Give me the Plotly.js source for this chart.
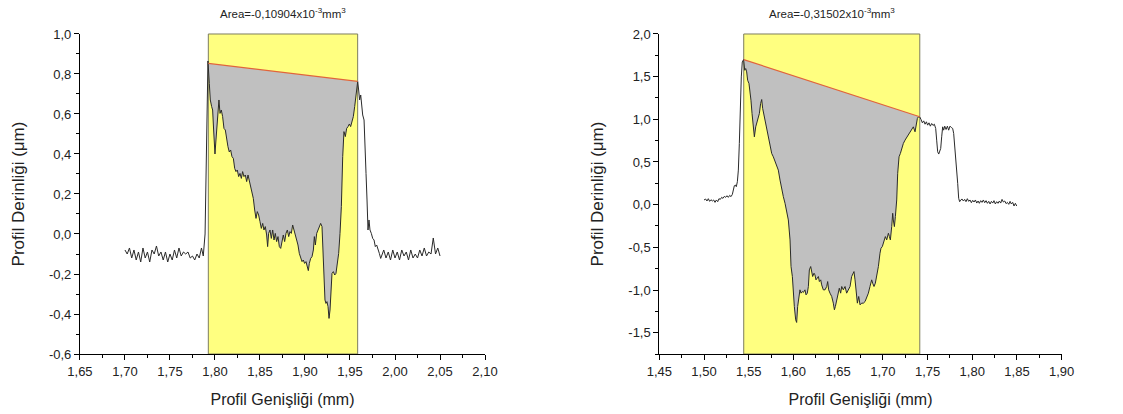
<!DOCTYPE html>
<html>
<head>
<meta charset="utf-8">
<script src="https://cdn.plot.ly/plotly-3.0.1.min.js"></script>
<style>
  html, body { margin: 0; padding: 0; background: #fff; }
  #chart { width: 1123px; height: 414px; }
</style>
</head>
<body>
<div id="chart"></div>
<script>
// ---- Profile A (left panel) ----
const profA_x = [
  1.7000,1.7025,1.7050,1.7075,1.7100,1.7125,1.7150,1.7175,1.7200,1.7225,1.7250,1.7275,1.7300,1.7325,1.7350,1.7375,1.7400,1.7425,1.7450,1.7475,
  1.7500,1.7525,1.7550,1.7575,1.7600,1.7625,1.7650,1.7675,1.7700,1.7725,1.7750,1.7775,1.7800,1.7825,1.7850,1.7870,1.7890,1.7907,1.7922,
  1.7937,1.7948,1.7963,1.7974,1.7985,1.8000,1.8011,1.8026,1.8044,1.8056,1.8070,1.8085,1.8100,1.8115,1.8130,1.8144,1.8159,1.8174,1.8189,
  1.8204,1.8219,1.8233,1.8248,1.8263,1.8278,1.8293,1.8307,1.8322,1.8337,1.8352,1.8367,1.8381,1.8396,1.8411,1.8426,1.8441,1.8456,1.8470,
  1.8485,1.8500,1.8515,1.8530,1.8544,1.8559,1.8574,1.8585,1.8596,1.8611,1.8626,1.8641,1.8656,1.8670,1.8685,1.8700,1.8715,1.8730,1.8744,
  1.8759,1.8774,1.8789,1.8804,1.8819,1.8833,1.8848,1.8863,1.8878,1.8893,1.8907,1.8922,1.8937,1.8952,1.8967,1.8981,1.8996,1.9011,1.9026,
  1.9037,1.9048,1.9063,1.9078,1.9093,1.9104,1.9115,1.9130,1.9144,1.9159,1.9174,1.9189,1.9200,1.9211,1.9222,1.9233,1.9244,1.9256,1.9267,
  1.9278,1.9289,1.9300,1.9315,1.9330,1.9344,1.9359,1.9374,1.9389,1.9404,1.9419,1.9433,1.9448,1.9463,1.9478,1.9493,1.9507,1.9522,1.9537,
  1.9552,1.9567,1.9578,1.9585,1.9596,1.9607,1.9619,1.9630,1.9641,1.9656,1.9667,1.9678,1.9689,1.9700,1.9711,1.9722,1.9737,1.9752,1.9767,
  1.9781,1.9796,1.9811,1.9826,1.9841,1.9850,1.9875,1.9900,1.9925,1.9950,1.9975,2.0000,2.0025,2.0050,2.0075,2.0100,2.0125,2.0150,2.0175,
  2.0200,2.0225,2.0250,2.0275,2.0300,2.0325,2.0350,2.0375,2.0400,2.0425,2.0450,2.0475,2.0500
];
const profA_y = [
  -0.08,-0.10,-0.07,-0.12,-0.08,-0.13,-0.09,-0.14,-0.07,-0.12,-0.09,-0.14,-0.08,-0.10,-0.06,-0.11,-0.09,-0.13,-0.09,-0.14,
  -0.10,-0.13,-0.08,-0.12,-0.07,-0.11,-0.09,-0.10,-0.09,-0.12,-0.11,-0.13,-0.10,-0.12,-0.07,-0.11,0.00,0.42,0.865,
  0.753,0.67,0.637,0.62,0.52,0.40,0.47,0.587,0.67,0.603,0.62,0.587,0.528,0.52,0.47,0.437,0.41,0.42,0.387,
  0.378,0.328,0.312,0.32,0.287,0.303,0.278,0.312,0.287,0.295,0.262,0.295,0.27,0.237,0.212,0.178,0.12,0.078,0.112,
  0.095,0.062,0.028,0.053,0.02,0.037,-0.005,-0.063,0.003,0.02,-0.022,0.02,-0.03,0.003,-0.038,-0.013,-0.063,-0.072,-0.03,
  -0.005,-0.038,0.003,0.02,-0.013,0.012,0.003,0.045,0.02,-0.005,-0.022,-0.055,-0.097,-0.122,-0.138,-0.13,-0.147,-0.138,-0.163,
  -0.183,-0.147,-0.122,-0.113,-0.08,-0.013,-0.055,0.003,0.02,0.045,0.053,0.037,-0.063,-0.197,-0.33,-0.347,-0.338,-0.363,-0.422,
  -0.38,-0.263,-0.197,-0.188,-0.205,-0.197,-0.147,-0.097,0.003,0.137,0.387,0.512,0.487,0.528,0.537,0.55,0.537,0.562,0.587,
  0.637,0.687,0.737,0.762,0.72,0.67,0.695,0.637,0.595,0.57,0.47,0.303,0.17,0.02,0.07,0.02,0.003,-0.022,-0.03,
  -0.063,-0.055,-0.072,-0.097,-0.122,-0.11,-0.08,-0.12,-0.09,-0.13,-0.08,-0.12,-0.09,-0.13,-0.08,-0.11,-0.09,-0.13,-0.08,
  -0.12,-0.10,-0.12,-0.08,-0.11,-0.07,-0.11,-0.09,-0.10,-0.02,-0.10,-0.07,-0.11
];
const bandA_x = [1.7926, 1.9585];        // integration window
const baseA_x = [1.7926, 1.9585];        // reference line end points
const baseA_y = [0.853, 0.763];
const areaA_label = 'Area=-0,10904x10<sup>-3</sup>mm<sup>3</sup>';
const tickA_x = [1.65, 1.70, 1.75, 1.80, 1.85, 1.90, 1.95, 2.00, 2.05, 2.10];
const tickA_y = [-0.6, -0.4, -0.2, 0.0, 0.2, 0.4, 0.6, 0.8, 1.0];

// ---- Profile B (right panel) ----
const profB_x = [
  1.5000,1.5018,1.5033,1.5048,1.5063,1.5078,1.5093,1.5108,1.5123,1.5138,1.5153,1.5167,1.5182,1.5197,1.5212,1.5227,1.5242,1.5257,1.5272,1.5287,
  1.5302,1.5317,1.5328,1.5339,1.5350,1.5361,1.5373,1.5384,1.5395,1.5406,1.5417,1.5428,1.5443,1.5455,1.5466,1.5477,1.5488,1.5503,1.5514,
  1.5525,1.5537,1.5551,1.5563,1.5578,1.5589,1.5604,1.5619,1.5633,1.5645,1.5656,1.5671,1.5686,1.5701,1.5719,1.5738,1.5757,1.5775,1.5794,
  1.5812,1.5831,1.5850,1.5868,1.5887,1.5906,1.5924,1.5943,1.5962,1.5973,1.5988,1.5999,1.6010,1.6025,1.6036,1.6047,1.6062,1.6073,1.6085,
  1.6100,1.6111,1.6129,1.6141,1.6155,1.6167,1.6178,1.6193,1.6204,1.6215,1.6230,1.6241,1.6252,1.6267,1.6279,1.6290,1.6305,1.6316,1.6334,
  1.6353,1.6372,1.6383,1.6394,1.6409,1.6428,1.6446,1.6458,1.6469,1.6484,1.6502,1.6513,1.6528,1.6540,1.6558,1.6577,1.6595,1.6614,1.6633,
  1.6651,1.6663,1.6677,1.6689,1.6700,1.6715,1.6730,1.6745,1.6763,1.6782,1.6801,1.6819,1.6838,1.6856,1.6875,1.6886,1.6901,1.6916,1.6931,
  1.6950,1.6968,1.6979,1.6994,1.7013,1.7028,1.7043,1.7062,1.7073,1.7084,1.7099,1.7110,1.7117,1.7129,1.7140,1.7155,1.7166,1.7181,1.7196,
  1.7211,1.7229,1.7248,1.7267,1.7285,1.7304,1.7323,1.7341,1.7360,1.7371,1.7386,1.7397,1.7412,1.7427,1.7442,1.7457,1.7472,1.7487,1.7501,
  1.7516,1.7531,1.7546,1.7561,1.7576,1.7591,1.7602,1.7613,1.7625,1.7636,1.7647,1.7658,1.7669,1.7680,1.7692,1.7707,1.7722,1.7736,1.7751,
  1.7766,1.7781,1.7792,1.7804,1.7815,1.7826,1.7837,1.7848,1.7859,1.7871,1.7886,1.7900,1.7915,1.7930,1.7945,1.7960,1.7975,1.7990,1.8005,
  1.8020,1.8035,1.8050,1.8065,1.8079,1.8094,1.8109,1.8124,1.8139,1.8154,1.8169,1.8184,1.8199,1.8214,1.8229,1.8243,1.8258,1.8273,1.8288,
  1.8303,1.8318,1.8333,1.8348,1.8363,1.8378,1.8393,1.8408,1.8423,1.8437,1.8452,1.8467,1.8482,1.8497
];
const profB_y = [
  0.055,0.066,0.043,0.070,0.039,0.058,0.043,0.055,0.027,0.055,0.035,0.070,0.062,0.086,0.074,0.097,0.086,0.105,0.086,0.109,
  0.094,0.121,0.172,0.222,0.230,0.211,0.269,0.405,0.717,1.146,1.497,1.673,1.70,1.575,1.595,1.556,1.458,1.419,1.341,
  1.224,1.068,0.893,0.795,0.912,0.959,0.990,1.068,1.185,1.232,1.127,1.049,0.951,0.893,0.795,0.678,0.600,0.561,0.503,
  0.464,0.405,0.288,0.172,0.094,0.016,-0.101,-0.179,-0.413,-0.725,-0.842,-1.037,-1.193,-1.349,-1.380,-1.193,-1.076,-0.998,-1.037,
  -1.018,-1.029,-0.998,-1.057,-1.037,-0.959,-0.764,-0.725,-0.784,-0.842,-0.803,-0.823,-0.881,-0.862,-0.842,-0.901,-0.881,-0.940,-0.998,
  -0.998,-0.959,-0.901,-0.998,-1.037,-1.076,-1.154,-1.232,-1.193,-1.115,-1.037,-0.979,-1.037,-0.959,-0.998,-0.959,-1.037,-0.998,-0.959,
  -0.842,-0.803,-0.784,-0.881,-1.037,-1.154,-1.076,-1.174,-1.154,-1.154,-1.135,-1.096,-1.037,-0.959,-0.881,-0.920,-0.959,-0.920,-0.842,
  -0.725,-0.569,-0.511,-0.491,-0.413,-0.374,-0.413,-0.335,-0.374,-0.413,-0.257,-0.101,-0.179,-0.257,-0.140,0.055,0.367,0.561,0.600,
  0.659,0.717,0.756,0.788,0.815,0.854,0.873,0.912,0.854,0.932,1.010,1.029,1.029,0.998,0.959,0.982,0.943,0.971,0.932,
  0.959,0.920,0.951,0.928,0.943,0.893,0.756,0.620,0.593,0.639,0.659,0.795,0.912,0.873,0.920,0.881,0.920,0.873,0.920,
  0.904,0.893,0.834,0.678,0.522,0.483,0.250,0.074,0.035,0.055,0.066,0.043,0.062,0.035,0.070,0.039,0.055,0.023,0.051,
  0.031,0.055,0.019,0.043,0.016,0.047,0.027,0.055,0.023,0.047,0.016,0.039,0.008,0.039,0.019,0.047,0.008,0.035,0.016,
  0.043,0.019,0.062,0.031,0.043,0.012,0.027,0.004,0.039,0.008,0.027,-0.016,0.016,-0.016
];
const bandB_x = [1.5444, 1.7413];
const baseB_x = [1.5444, 1.7413];
const baseB_y = [1.70, 1.03];
const areaB_label = 'Area=-0,31502x10<sup>-3</sup>mm<sup>3</sup>';
const tickB_x = [1.45, 1.50, 1.55, 1.60, 1.65, 1.70, 1.75, 1.80, 1.85, 1.90];
const tickB_y = [-1.5, -1.0, -0.5, 0.0, 0.5, 1.0, 1.5, 2.0];

const xTitle = 'Profil Genişliği (mm)';
const yTitle = 'Profil Derinliği (μm)';

// ---- helpers ----
const FONT = 'Liberation Sans, Arial, sans-serif';
const comma = (v, d) => v.toFixed(d).replace('.', ',');

// Closed region between the profile (inside the window) and the reference line
function areaPolygon(px, py, band, bx, by) {
  const xs = [], ys = [];
  for (let i = 0; i < px.length; i++) {
    if (px[i] >= band[0] - 0.001 && px[i] <= band[1] + 0.001) { xs.push(px[i]); ys.push(py[i]); }
  }
  for (let i = bx.length - 1; i >= 0; i--) { xs.push(bx[i]); ys.push(by[i]); }
  xs.push(xs[0]); ys.push(ys[0]);
  return { x: xs, y: ys };
}

function panelTraces(px, py, band, bx, by, xa, ya) {
  const poly = areaPolygon(px, py, band, bx, by);
  return [
    { x: poly.x, y: poly.y, xaxis: xa, yaxis: ya, type: 'scatter', mode: 'lines',
      fill: 'toself', fillcolor: '#c0c0c0', line: { width: 0 }, hoverinfo: 'skip' },
    { x: px, y: py, xaxis: xa, yaxis: ya, type: 'scatter', mode: 'lines',
      line: { color: '#2a2a2a', width: 1 } },
    { x: bx, y: by, xaxis: xa, yaxis: ya, type: 'scatter', mode: 'lines',
      line: { color: '#e0643c', width: 1.2 } }
  ];
}

function xAxis(domain, ticks, anchor) {
  return {
    domain: domain, anchor: anchor, range: [ticks[0], ticks[ticks.length - 1]],
    tickmode: 'array', tickvals: ticks, ticktext: ticks.map(v => comma(v, 2)),
    ticks: 'outside', ticklen: 5, tickwidth: 1, tickcolor: '#000',
    minor: { tickmode: 'linear', tick0: ticks[0], dtick: (ticks[1] - ticks[0]) / 2,
             ticks: 'outside', ticklen: 3, tickwidth: 1, tickcolor: '#000', showgrid: false },
    showline: true, linecolor: '#000', linewidth: 1, mirror: false,
    showgrid: false, zeroline: false,
    tickfont: { family: FONT, size: 13, color: '#222' },
    title: { text: xTitle, font: { family: FONT, size: 16, color: '#222' }, standoff: 16 }
  };
}

function yAxis(domain, ticks, range, anchor) {
  return {
    domain: domain, anchor: anchor, range: range,
    tickmode: 'array', tickvals: ticks, ticktext: ticks.map(v => comma(v, 1)),
    ticks: 'outside', ticklen: 5, tickwidth: 1, tickcolor: '#000',
    minor: { tickmode: 'linear', tick0: ticks[0], dtick: (ticks[1] - ticks[0]) / 2,
             ticks: 'outside', ticklen: 3, tickwidth: 1, tickcolor: '#000', showgrid: false },
    showline: true, linecolor: '#000', linewidth: 1, mirror: false,
    showgrid: false, zeroline: false,
    tickfont: { family: FONT, size: 13, color: '#222' },
    title: { text: yTitle, font: { family: FONT, size: 17, color: '#222' }, standoff: 20 }
  };
}

function band(x, xref, yref) {
  return { type: 'rect', xref: xref, yref: yref + ' domain', x0: x[0], x1: x[1], y0: 0, y1: 1,
           fillcolor: '#ffff80', line: { color: '#7d7d5e', width: 1 }, layer: 'below' };
}

function areaTitle(text, bandX, xref) {
  return { text: text, xref: xref, yref: 'paper', x: (bandX[0] + bandX[1]) / 2, y: 0.968,
           xanchor: 'center', yanchor: 'middle', showarrow: false,
           font: { family: FONT, size: 11.5, color: '#222' } };
}

const yDomain = [0.1449, 0.9179];

const data = [].concat(
  panelTraces(profA_x, profA_y, bandA_x, baseA_x, baseA_y, 'x', 'y'),
  panelTraces(profB_x, profB_y, bandB_x, baseB_x, baseB_y, 'x2', 'y2')
);

const layout = {
  width: 1123, height: 414,
  margin: { l: 0, r: 0, t: 0, b: 0 },
  paper_bgcolor: '#fff', plot_bgcolor: 'rgba(0,0,0,0)',
  showlegend: false,
  xaxis: xAxis([0.0712, 0.4319], tickA_x, 'y'),
  yaxis: yAxis(yDomain, tickA_y, [-0.6, 1.0], 'x'),
  xaxis2: xAxis([0.5871, 0.9454], tickB_x, 'y2'),
  yaxis2: yAxis(yDomain, tickB_y, [-1.75, 2.0], 'x2'),
  shapes: [band(bandA_x, 'x', 'y'), band(bandB_x, 'x2', 'y2')],
  annotations: [areaTitle(areaA_label, bandA_x, 'x'), areaTitle(areaB_label, bandB_x, 'x2')]
};

Plotly.newPlot('chart', data, layout, { staticPlot: true, displayModeBar: false });
</script>
</body>
</html>
